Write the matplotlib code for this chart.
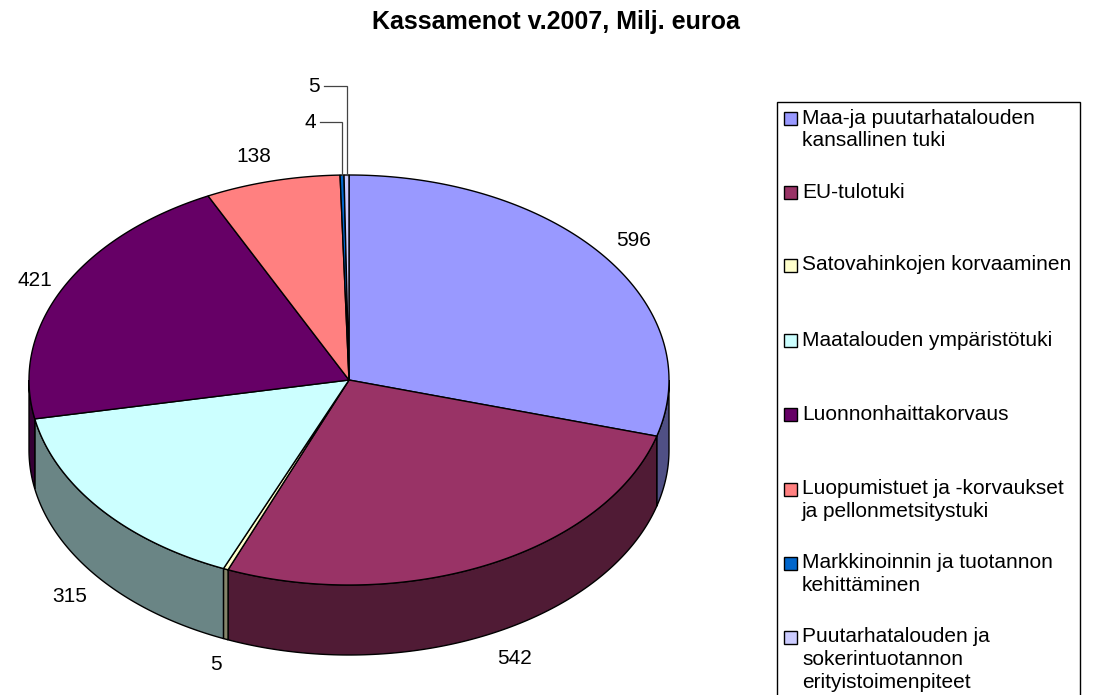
import numpy as np
import matplotlib
matplotlib.use("Agg")
import matplotlib.pyplot as plt
from matplotlib.patches import Polygon, Rectangle
from matplotlib.colors import to_rgb

# ---------------- data ----------------
title = "Kassamenot v.2007, Milj. euroa"
categories = [
    "Maa-ja puutarhatalouden\nkansallinen tuki",
    "EU-tulotuki",
    "Satovahinkojen korvaaminen",
    "Maatalouden ympäristötuki",
    "Luonnonhaittakorvaus",
    "Luopumistuet ja -korvaukset\nja pellonmetsitystuki",
    "Markkinoinnin ja tuotannon\nkehittäminen",
    "Puutarhatalouden ja\nsokerintuotannon\nerityistoimenpiteet",
]
values = [596, 542, 5, 315, 421, 138, 4, 5]
colors = ["#9999FF", "#993366", "#FFFFCC", "#CCFFFF",
          "#660066", "#FF8080", "#0066CC", "#CCCCFF"]

# ---------------- layout ----------------
W, H = 1093, 695
FONT = "Liberation Sans"
cx, cy, rx, ry, depth = 349, 380, 320, 205, 70
side_shade = 0.52
label_pos = [(634, 240), (515, 659), (216, 665), (70, 597),
             (35, 280), (254, 157), (310, 122), (314, 86)]
leader = [False, False, False, False, False, False, True, True]
legend_box = (777, 102, 1080, 700)
legend_y = [118, 192, 265, 340, 414, 489, 563, 637]
legend_lh = 22.5
label_fs = 15
legend_fs = 15
title_fs = 18

fig = plt.figure(figsize=(W / 100, H / 100), dpi=100)
ax = fig.add_axes([0, 0, 1, 1])
ax.set_xlim(0, W)
ax.set_ylim(H, 0)
ax.axis("off")


def pt(theta_deg, dy=0.0):
    t = np.radians(theta_deg)
    return np.column_stack([cx + rx * np.sin(t), cy - ry * np.cos(t) + dy])


total = float(sum(values))
angles = np.concatenate([[0], np.cumsum(values) / total * 360.0])

# sides (front half only: clockwise angle 90..270)
for i, c in enumerate(colors):
    a1, a2 = angles[i], angles[i + 1]
    lo, hi = max(a1, 90), min(a2, 270)
    if lo < hi:
        t = np.linspace(lo, hi, 120)
        top = pt(t)
        bot = pt(t, depth)[::-1]
        sc = tuple(v * side_shade for v in to_rgb(c))
        ax.add_patch(Polygon(np.vstack([top, bot]), closed=True, facecolor=sc,
                             edgecolor="black", lw=1.0, joinstyle="miter"))

# top faces
for i, c in enumerate(colors):
    a1, a2 = angles[i], angles[i + 1]
    n = max(3, int((a2 - a1) * 3))
    t = np.linspace(a1, a2, n)
    poly = np.vstack([[cx, cy], pt(t)])
    ax.add_patch(Polygon(poly, closed=True, facecolor=c, edgecolor="black",
                         lw=1.0, joinstyle="miter"))

# data labels
for i, v in enumerate(values):
    x, y = label_pos[i]
    ax.text(x, y, str(v), ha="center", va="center", fontsize=label_fs,
            family=FONT, color="black")
    if leader[i]:
        mid = (angles[i] + angles[i + 1]) / 2
        mx, my = pt(np.array([mid]))[0]
        ax.plot([x + 10, mx, mx], [y, y, my], color="#444444", lw=0.9,
                solid_joinstyle="miter")

# legend
x0, y0, x1, y1 = legend_box
ax.add_patch(Rectangle((x0, y0), x1 - x0, y1 - y0, facecolor="white",
                       edgecolor="black", lw=1.0))
for i, (lab, c) in enumerate(zip(categories, colors)):
    yy = legend_y[i]
    ax.add_patch(Rectangle((784, yy - 6.5), 13, 13, facecolor=c,
                           edgecolor="black", lw=1.0))
    for j, line in enumerate(lab.split("\n")):
        ax.text(802, yy + j * legend_lh, line, ha="left", va="center",
                fontsize=legend_fs, family=FONT, color="black")

ax.text(556, 22, title, ha="center", va="center", fontsize=title_fs,
        fontweight="bold", family=FONT)

fig.savefig("out.png", dpi=100)
